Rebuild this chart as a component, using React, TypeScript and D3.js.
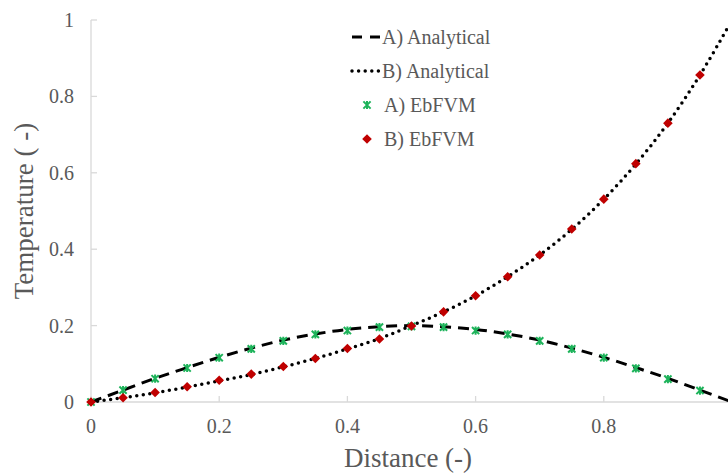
import * as d3 from "d3";
import React, { useEffect, useRef } from "react";

// sample positions (Distance)
const xs = [0, 0.05, 0.1, 0.15, 0.2, 0.25, 0.3, 0.35, 0.4, 0.45, 0.5, 0.55, 0.6, 0.65, 0.7, 0.75, 0.8, 0.85, 0.9, 0.95];

// A) EbFVM and B) EbFVM values
const ebfvmA = [0, 0.031, 0.061, 0.089, 0.116, 0.139, 0.160, 0.177, 0.187, 0.196, 0.198, 0.196, 0.187, 0.177, 0.160, 0.139, 0.116, 0.088, 0.060, 0.030];
const ebfvmB = [0, 0.011, 0.025, 0.040, 0.057, 0.073, 0.093, 0.114, 0.140, 0.165, 0.199, 0.236, 0.278, 0.328, 0.385, 0.453, 0.531, 0.624, 0.730, 0.856];

// analytical curves, read at the same positions plus the right end
const lineXs = [...xs, 1.0];
const analyticalA = [0, 0.031, 0.062, 0.090, 0.117, 0.141, 0.162, 0.178, 0.190, 0.197, 0.200, 0.197, 0.190, 0.178, 0.162, 0.141, 0.117, 0.090, 0.062, 0.031, 0];
const analyticalB = [0, 0.011, 0.024, 0.039, 0.055, 0.072, 0.092, 0.114, 0.139, 0.166, 0.200, 0.236, 0.278, 0.328, 0.385, 0.452, 0.531, 0.623, 0.730, 0.856, 1.0];

const xTicks = [0, 0.2, 0.4, 0.6, 0.8];
const yTicks = [0, 0.2, 0.4, 0.6, 0.8, 1];

const legendItems = [
  { label: "A) Analytical", kind: "dash" },
  { label: "B) Analytical", kind: "dot" },
  { label: "A) EbFVM", kind: "star" },
  { label: "B) EbFVM", kind: "diamond" },
];

const GREEN = "#1db35a";
const RED = "#c00000";
const TEXT = "#595959";
const AXIS = "#d9d9d9";
const FONT = "Liberation Serif, serif";

const App = () => {
  const svgRef = useRef<SVGSVGElement>(null);

  useEffect(() => {
    const width = 728;
    const height = 473;
    const left = 91, top = 20, bottom = 402;

    const svg = d3.select(svgRef.current);
    svg.selectAll("*").remove();
    svg.attr("width", width).attr("height", height);

    const x = d3.scaleLinear().domain([0, 1]).range([left, 732]);
    const y = d3.scaleLinear().domain([0, 1]).range([bottom, top]);

    // axis lines and small inner ticks
    svg.append("line")
      .attr("x1", left).attr("x2", left).attr("y1", top).attr("y2", bottom)
      .attr("stroke", AXIS).attr("stroke-width", 1.3);
    svg.append("line")
      .attr("x1", left).attr("x2", width).attr("y1", bottom).attr("y2", bottom)
      .attr("stroke", AXIS).attr("stroke-width", 1.3);

    svg.selectAll(".ytick")
      .data(yTicks)
      .enter()
      .append("line")
      .attr("x1", left).attr("x2", left + 6)
      .attr("y1", d => y(d)).attr("y2", d => y(d))
      .attr("stroke", AXIS).attr("stroke-width", 1.3);

    svg.selectAll(".xtick")
      .data(xTicks)
      .enter()
      .append("line")
      .attr("x1", d => x(d)).attr("x2", d => x(d))
      .attr("y1", bottom).attr("y2", bottom - 6)
      .attr("stroke", AXIS).attr("stroke-width", 1.3);

    // tick labels
    svg.selectAll(".ylabel")
      .data(yTicks)
      .enter()
      .append("text")
      .attr("x", 74)
      .attr("y", d => y(d) + 7)
      .attr("text-anchor", "end")
      .attr("font-family", FONT)
      .attr("font-size", 20)
      .attr("fill", TEXT)
      .text(d => String(d));

    svg.selectAll(".xlabel")
      .data(xTicks)
      .enter()
      .append("text")
      .attr("x", d => x(d))
      .attr("y", 433)
      .attr("text-anchor", "middle")
      .attr("font-family", FONT)
      .attr("font-size", 20)
      .attr("fill", TEXT)
      .text(d => String(d));

    // axis titles
    svg.append("text")
      .attr("x", 408).attr("y", 467)
      .attr("text-anchor", "middle")
      .attr("font-family", FONT).attr("font-size", 27)
      .attr("fill", TEXT)
      .text("Distance (-)");

    svg.append("text")
      .attr("transform", "translate(33,211) rotate(-90)")
      .attr("text-anchor", "middle")
      .attr("font-family", FONT).attr("font-size", 27)
      .attr("fill", TEXT)
      .text("Temperature ( -)");

    // analytical lines
    const line = d3.line<number>()
      .x((_, i) => x(lineXs[i]))
      .y(d => y(d))
      .curve(d3.curveMonotoneX);

    svg.append("path")
      .datum(analyticalA)
      .attr("fill", "none")
      .attr("stroke", "#000")
      .attr("stroke-width", 3)
      .attr("stroke-dasharray", "11,7")
      .attr("d", line);

    svg.append("path")
      .datum(analyticalB)
      .attr("fill", "none")
      .attr("stroke", "#000")
      .attr("stroke-width", 3.5)
      .attr("stroke-linecap", "round")
      .attr("stroke-dasharray", "0,6.6")
      .attr("d", line);

    // markers
    const star = (g: any, cx: number, cy: number) => {
      const s = 3.6;
      g.append("path")
        .attr("d", `M${cx - s},${cy - s}L${cx + s},${cy + s}M${cx - s},${cy + s}L${cx + s},${cy - s}M${cx},${cy - s - 0.5}L${cx},${cy + s + 0.5}`)
        .attr("stroke", GREEN)
        .attr("stroke-width", 2)
        .attr("fill", "none");
    };
    const diamond = (g: any, cx: number, cy: number) => {
      const s = 4.8;
      g.append("path")
        .attr("d", `M${cx},${cy - s}L${cx + s},${cy}L${cx},${cy + s}L${cx - s},${cy}Z`)
        .attr("fill", RED);
    };

    const marks = svg.append("g");
    ebfvmA.forEach((v, i) => star(marks, x(xs[i]), y(v)));
    ebfvmB.forEach((v, i) => diamond(marks, x(xs[i]), y(v)));

    // legend
    const lg = svg.append("g");
    const rowY = [37, 71, 105, 139];
    legendItems.forEach((item, i) => {
      const cy = rowY[i];
      if (item.kind === "dash") {
        lg.append("line")
          .attr("x1", 352).attr("x2", 380).attr("y1", cy).attr("y2", cy)
          .attr("stroke", "#000").attr("stroke-width", 3)
          .attr("stroke-dasharray", "10,8");
      } else if (item.kind === "dot") {
        lg.append("line")
          .attr("x1", 352).attr("x2", 380).attr("y1", cy).attr("y2", cy)
          .attr("stroke", "#000").attr("stroke-width", 3.5)
          .attr("stroke-linecap", "round")
          .attr("stroke-dasharray", "0,6.6");
      } else if (item.kind === "star") {
        star(lg, 367, cy);
      } else {
        diamond(lg, 367, cy);
      }
      lg.append("text")
        .attr("x", item.kind === "dash" || item.kind === "dot" ? 382 : 384)
        .attr("y", cy + 7)
        .attr("font-family", FONT)
        .attr("font-size", 20)
        .attr("fill", TEXT)
        .text(item.label);
    });
  }, []);

  return (
    <svg
      ref={svgRef}
      style={{ position: "absolute", left: 0, top: 0, background: "#fff" }}
    />
  );
};

export default App;
